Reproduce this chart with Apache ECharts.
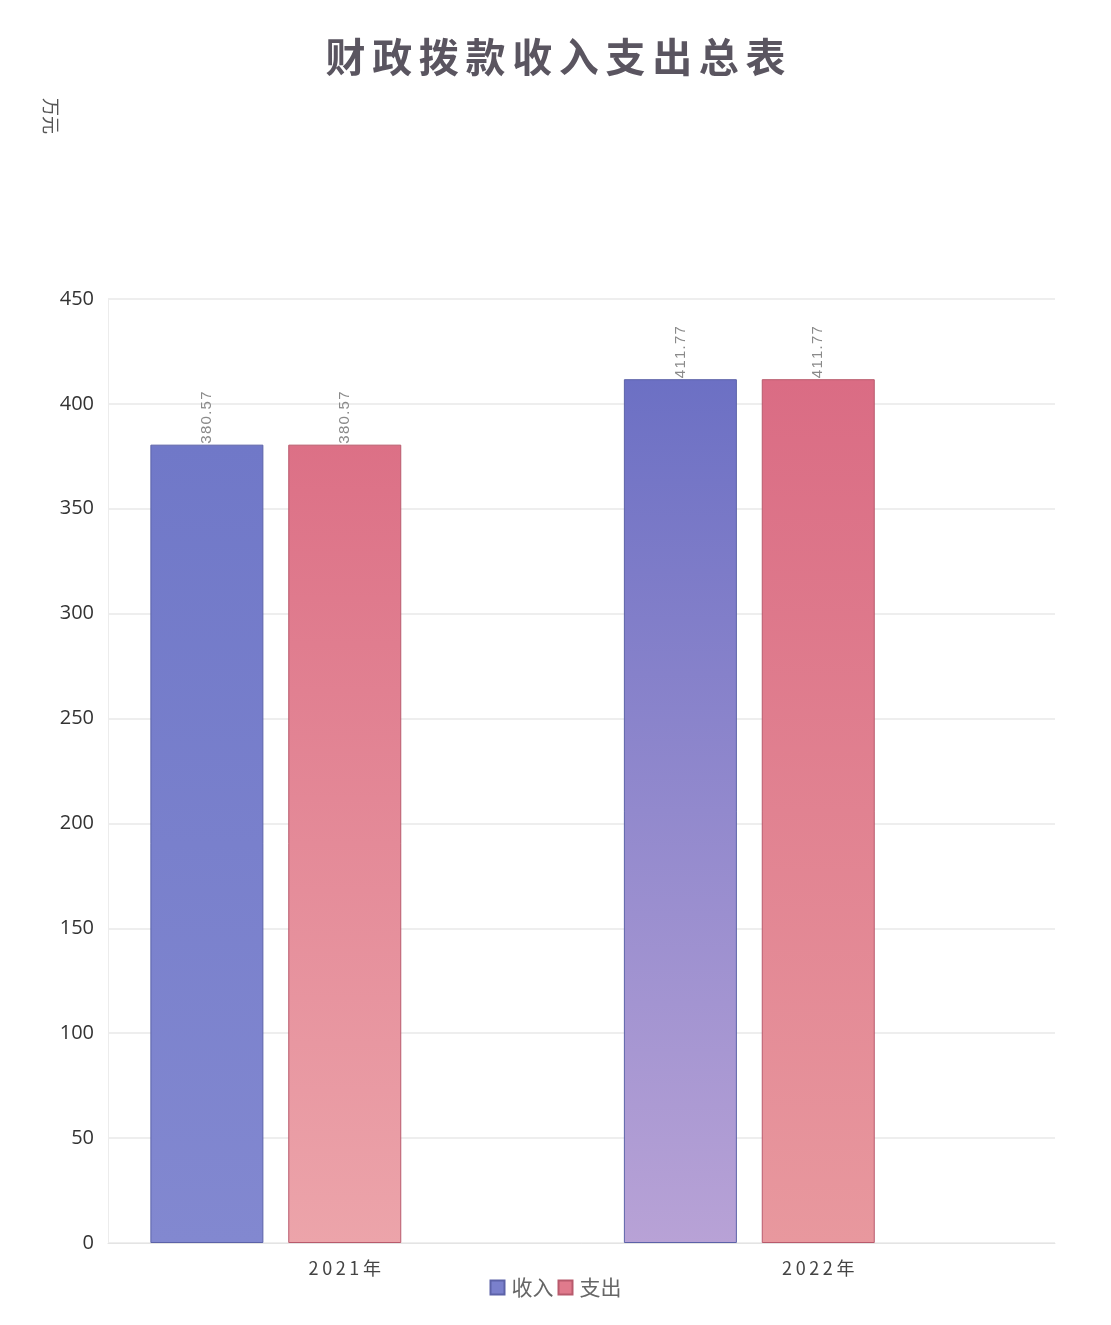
<!DOCTYPE html>
<html>
<head>
<meta charset="utf-8">
<title>财政拨款收入支出总表</title>
<script src="https://cdn.jsdelivr.net/npm/echarts@6/dist/echarts.min.js"></script>
<style>
  html, body { margin: 0; padding: 0; background: #fff; }
  #chart { width: 1111px; height: 1325px; }
</style>
</head>
<body>
<div id="chart"></div>
<script>
// Categories and values (万元)
const years = ['2021年', '2022年'];
const income = [380.57, 411.77];
const expense = [380.57, 411.77];
// Third slot per group is left empty, as in the original workbook
const emptySlot = [null, null];
const yTicks = [0, 50, 100, 150, 200, 250, 300, 350, 400, 450];

const chart = echarts.init(document.getElementById('chart'));

function grad(top, bottom) {
  return new echarts.graphic.LinearGradient(0, 0, 0, 1, [
    { offset: 0, color: top },
    { offset: 1, color: bottom }
  ]);
}

const incomeFills = [grad('#7078c8', '#8288d0'), grad('#6c70c4', '#b8a2d6')];
const expenseFills = [grad('#dc7086', '#eca4aa'), grad('#da6c84', '#e8989e')];

const spaced = (s, gap) => s.split('').join(gap);

const valueLabel = {
  show: true,
  position: 'top',
  rotate: 90,
  align: 'left',
  verticalAlign: 'middle',
  distance: 1,
  color: '#8a8a8a',
  fontSize: 15,
  fontFamily: 'Liberation Sans, Arial, sans-serif',
  formatter: p => spaced(p.value.toFixed(2), '\u200A')
};

chart.setOption({
  backgroundColor: '#ffffff',
  animation: false,
  title: {
    text: spaced('财政拨款收入支出总表', '\u2006'),
    left: 'center',
    top: 32,
    textStyle: {
      fontFamily: 'Noto Sans CJK SC',
      fontWeight: 'bold',
      fontSize: 40,
      color: '#5a5560'
    }
  },
  legend: {
    data: ['收入', '支出'],
    bottom: 22,
    left: 'center',
    icon: 'rect',
    itemWidth: 14,
    itemHeight: 14,
    itemGap: 4,
    textStyle: { fontFamily: 'Noto Sans CJK SC', fontSize: 21, color: '#666', padding: [0, 0, 0, 2] }
  },
  grid: { left: 108, right: 56, top: 299, bottom: 82, containLabel: false },
  xAxis: {
    type: 'category',
    data: years,
    axisLine: { show: true, lineStyle: { color: '#e4e4e4', width: 1 } },
    axisTick: { show: false },
    axisLabel: {
      margin: 16,
      fontFamily: 'Noto Sans CJK SC',
      fontSize: 18,
      color: '#444',
      formatter: v => spaced(v, '\u2009')
    }
  },
  yAxis: {
    type: 'value',
    min: 0,
    max: yTicks[yTicks.length - 1],
    interval: yTicks[1] - yTicks[0],
    axisLine: { show: true, lineStyle: { color: '#ececec' } },
    axisTick: { show: false },
    axisLabel: {
      margin: 14,
      fontFamily: 'Open Sans, sans-serif',
      fontSize: 20,
      color: '#333'
    },
    splitLine: { show: true, lineStyle: { color: '#e8e8e8', width: 1.5 } }
  },
  series: [
    {
      name: '收入',
      type: 'bar',
      barWidth: 113,
      barGap: '22%',
      data: income.map((v, i) => ({ value: v, itemStyle: { color: incomeFills[i] } })),
      itemStyle: { color: '#7a80cc', borderColor: '#5c62a8', borderWidth: 1 },
      label: valueLabel
    },
    {
      name: '支出',
      type: 'bar',
      barWidth: 113,
      barGap: '22%',
      data: expense.map((v, i) => ({ value: v, itemStyle: { color: expenseFills[i] } })),
      itemStyle: { color: '#e07a8c', borderColor: '#b85a6c', borderWidth: 1 },
      label: valueLabel
    },
    {
      name: 'slot',
      type: 'bar',
      barWidth: 113,
      barGap: '22%',
      data: emptySlot,
      silent: true
    }
  ],
  // Unit label beside the top of the value axis, turned on its side
  graphic: [{
    type: 'text',
    left: 42,
    top: 98,
    rotation: -Math.PI / 2,
    style: {
      text: '万元',
      fontFamily: 'Noto Sans CJK SC',
      fontSize: 18,
      fill: '#555'
    }
  }]
});
</script>
</body>
</html>
